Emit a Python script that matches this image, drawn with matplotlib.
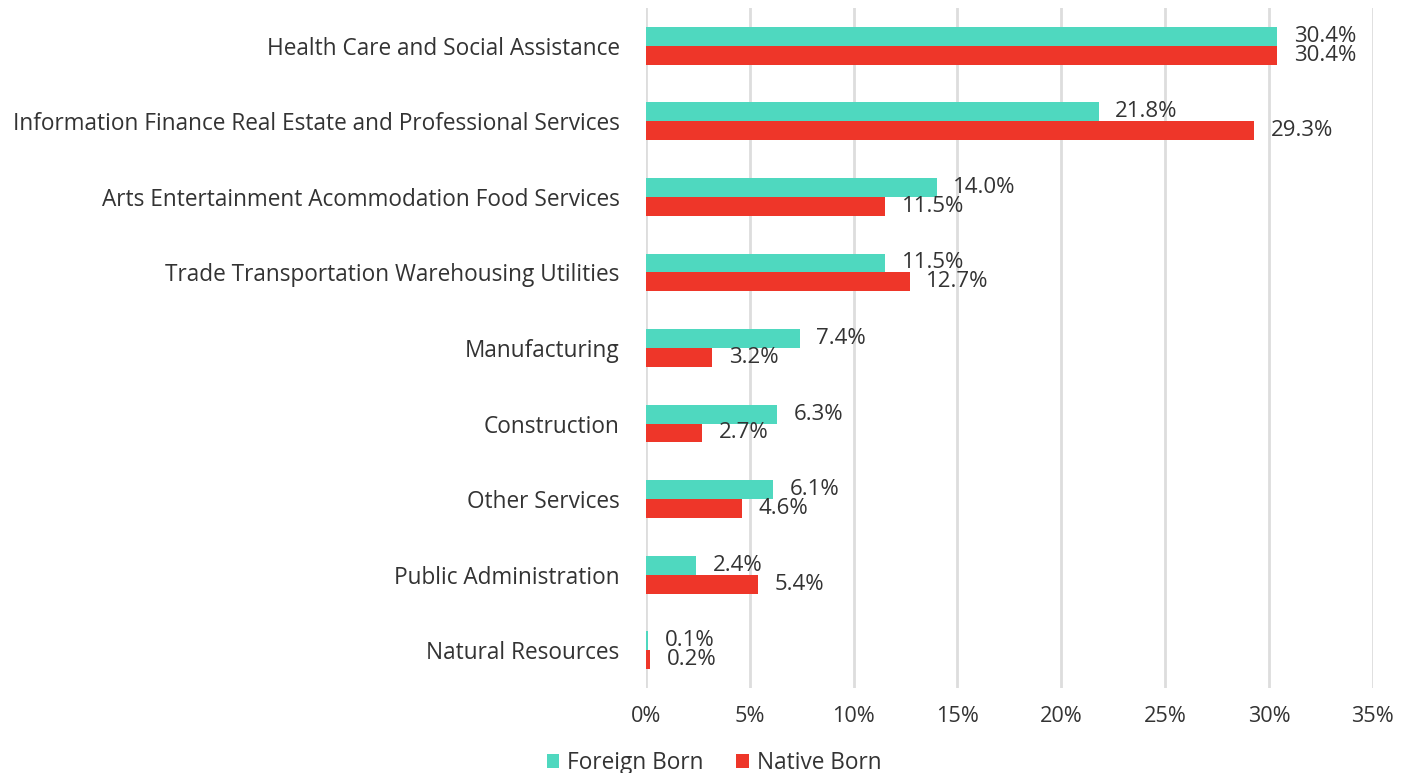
import matplotlib.pyplot as plt
import numpy as np

plt.rcParams['font.family'] = ['Open Sans', 'DejaVu Sans']

# dados por setor
setores = ['Health Care and Social Assistance',
           'Information Finance Real Estate and Professional Services',
           'Arts Entertainment Acommodation Food Services',
           'Trade Transportation Warehousing Utilities',
           'Manufacturing',
           'Construction',
           'Other Services',
           'Public Administration',
           'Natural Resources']
foreign_born = [30.4, 21.8, 14.0, 11.5, 7.4, 6.3, 6.1, 2.4, 0.1]
native_born = [30.4, 29.3, 11.5, 12.7, 3.2, 2.7, 4.6, 5.4, 0.2]
xticks = [0, 5, 10, 15, 20, 25, 30, 35]

cor_fb = '#4fd8bf'
cor_nb = '#ee3629'
cor_txt = '#333333'

fig = plt.figure(figsize=(14.08, 7.73), dpi=100)
ax = fig.add_axes([0.4588, 0.110, 0.5162, 0.8797])

y = np.arange(len(setores))
h = 0.25
ax.barh(y - h / 2, foreign_born, height=h, color=cor_fb, label='Foreign Born', zorder=3)
ax.barh(y + h / 2, native_born, height=h, color=cor_nb, label='Native Born', zorder=3)

# rotulos de valores
for i in range(len(setores)):
    ax.annotate('%.1f%%' % foreign_born[i], (foreign_born[i], y[i] - h / 2),
                xytext=(12, 0), textcoords='offset points', va='center',
                fontsize=16, color=cor_txt)
    ax.annotate('%.1f%%' % native_born[i], (native_born[i], y[i] + h / 2),
                xytext=(12, 0), textcoords='offset points', va='center',
                fontsize=16, color=cor_txt)

ax.set_ylim(len(setores) - 0.5, -0.5)
ax.set_xlim(0, 35)
ax.set_yticks(y)
ax.set_yticklabels(setores, fontsize=16.3, color=cor_txt)
ax.set_xticks(xticks)
ax.set_xticklabels(['%d%%' % t for t in xticks], fontsize=15.6, color=cor_txt)
ax.tick_params(axis='both', length=0)
ax.tick_params(axis='y', pad=19)
ax.tick_params(axis='x', pad=13)
ax.grid(True, axis='x', color='#dddddd', linewidth=2, zorder=0)
for s in ax.spines.values():
    s.set_visible(False)

fig.legend(loc='center', bbox_to_anchor=(0.507, 0.013), ncol=2, frameon=False,
           fontsize=16.3, handlelength=0.55, handleheight=0.55, handletextpad=0.35,
           columnspacing=1.45, labelcolor=cor_txt)

fig.savefig('out.png')
